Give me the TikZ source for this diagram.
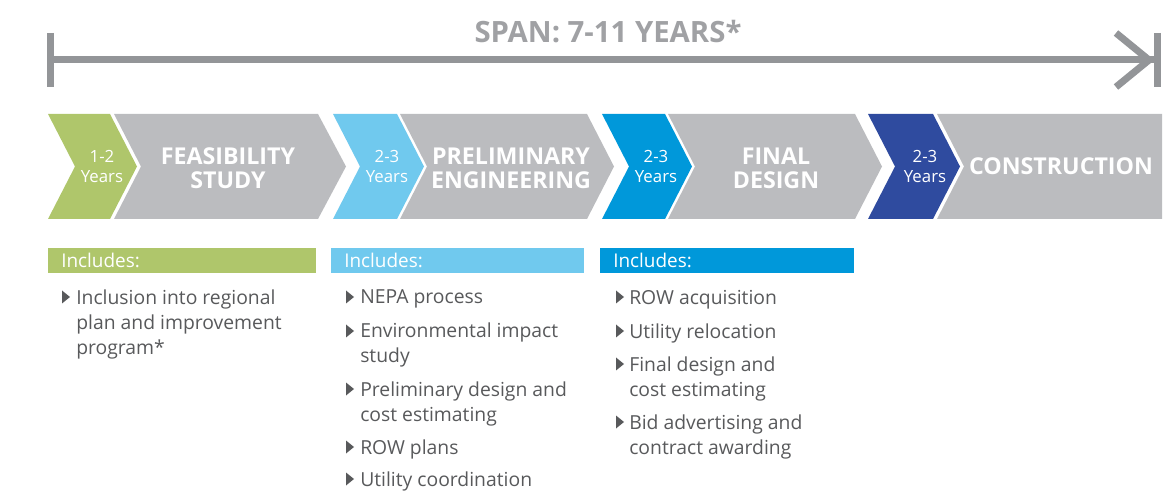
\documentclass[tikz,border=0pt]{standalone}
\usepackage{fontspec}
\setmainfont{Open Sans}
\usepackage{tikz}

\definecolor{lime}{RGB}{175,198,107}
\definecolor{skyblue}{RGB}{112,201,238}
\definecolor{ocean}{RGB}{0,152,218}
\definecolor{navy}{RGB}{47,75,159}
\definecolor{stagegray}{RGB}{187,188,191}
\definecolor{spangray}{RGB}{147,149,152}
\definecolor{titlegray}{RGB}{160,161,164}
\definecolor{bodygray}{RGB}{88,89,91}

\newcommand{\bul}[2]{\fill[bodygray] (#1,#2-6.5) -- (#1+8,#2) -- (#1,#2+6.5) -- cycle;}

\begin{document}
\begin{tikzpicture}[x=0.75pt,y=0.75pt,yscale=-1,xscale=1,
  yrs/.style={text=white,align=center,font=\fontsize{12.6}{15}\selectfont},
  stage/.style={text=white,align=center,font=\bfseries\fontsize{17.4}{18}\selectfont},
  incl/.style={anchor=west,text=white,inner sep=0pt,font=\fontsize{14.2}{16}\selectfont},
  item/.style={anchor=north west,align=left,inner sep=0pt,text=bodygray,font=\fontsize{14.5}{18.75}\selectfont},
  spanline/.style={draw=spangray,line width=5.25pt}]
\useasboundingbox (0,0) rectangle (1163,491);

% span bar
\node[font=\bfseries\fontsize{22}{24}\selectfont,text=titlegray] (span) at (608,32) {SPAN: 7-11 YEARS*};
\coordinate (spanL) at (50.5,60);
\coordinate (spanR) at (1157,60);
\draw[spanline] (spanL) -- (spanR);
\draw[spanline] (50.5,33) -- (50.5,87);
\draw[spanline] (1157,33) -- (1157,87);
\draw[spanline] (1116,33) -- (1149,60) -- (1116,87);

% chevrons
\fill[lime] (48,114) -- (110,114) -- (137,166.5) -- (110,219) -- (48,219) -- (75,166.5) -- cycle;
\fill[stagegray] (114,114) -- (318,114) -- (346,166.5) -- (318,219) -- (114,219) -- (141,166.5) -- cycle;
\fill[skyblue] (333,114) -- (397,114) -- (424,166.5) -- (397,219) -- (333,219) -- (360,166.5) -- cycle;
\fill[stagegray] (400,114) -- (587,114) -- (614,166.5) -- (587,219) -- (400,219) -- (427,166.5) -- cycle;
\fill[ocean] (602,114) -- (665,114) -- (692,166.5) -- (665,219) -- (602,219) -- (629,166.5) -- cycle;
\fill[stagegray] (668,114) -- (855,114) -- (882,166.5) -- (855,219) -- (668,219) -- (695,166.5) -- cycle;
\fill[navy] (868,114) -- (933,114) -- (960,166.5) -- (933,219) -- (868,219) -- (895,166.5) -- cycle;
\fill[stagegray] (937,114) -- (1162,114) -- (1162,219) -- (937,219) -- (964,166.5) -- cycle;

\node[yrs] (yrs1) at (102,167) {1-2\\Years};
\node[stage] (feas) at (228,168) {FEASIBILITY\\STUDY};
\node[yrs] (yrs2) at (387,167) {2-3\\Years};
\node[stage] (prelim) at (511,168) {PRELIMINARY\\ENGINEERING};
\node[yrs] (yrs3) at (656,167) {2-3\\Years};
\node[stage] (final) at (776,168) {FINAL\\DESIGN};
\node[yrs] (yrs4) at (925,167) {2-3\\Years};
\node[stage] (constr) at (1061,166.5) {CONSTRUCTION};

% includes
\fill[lime] (48,248) rectangle (316,273);
\fill[skyblue] (331,248) rectangle (584,273);
\fill[ocean] (600,248) rectangle (854,273);
\node[incl] (inc1) at (61,260.5) {Includes:};
\node[incl] (inc2) at (344,260.5) {Includes:};
\node[incl] (inc3) at (613,260.5) {Includes:};

\node[item] (f1) at (76,290) {Inclusion into regional\\plan and improvement\\program*};
\bul{62}{297}

\node[item] (p1) at (360,289) {NEPA process};
\node[item] (p2) at (360,323) {Environmental impact\\study};
\node[item] (p3) at (360,382) {Preliminary design and\\cost estimating};
\node[item] (p4) at (360,440) {ROW plans};
\node[item] (p5) at (360,471.5) {Utility coordination};
\bul{346}{297} \bul{346}{331} \bul{346}{389} \bul{346}{447} \bul{346}{479}

\node[item] (d1) at (629,290) {ROW acquisition};
\node[item] (d2) at (629,324) {Utility relocation};
\node[item] (d3) at (629,357) {Final design and\\cost estimating};
\node[item] (d4) at (629,415) {Bid advertising and\\contract awarding};
\bul{616}{297} \bul{616}{331} \bul{616}{364} \bul{616}{422}
\end{tikzpicture}
\end{document}
